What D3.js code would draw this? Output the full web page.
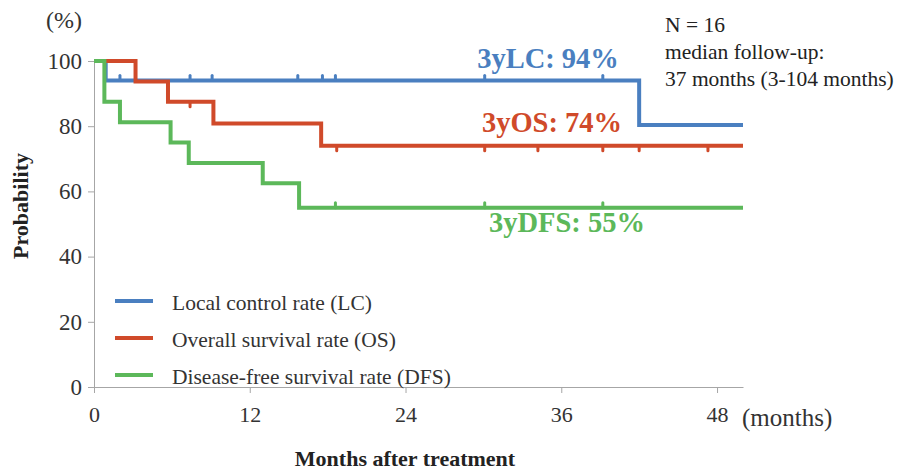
<!DOCTYPE html>
<html>
<head>
<meta charset="utf-8">
<script src="https://cdn.jsdelivr.net/npm/d3@7/dist/d3.min.js"></script>
<style>
  html, body { margin: 0; padding: 0; background: #ffffff; }
  svg { display: block; }
  text { font-family: "Liberation Serif", "DejaVu Serif", serif; }
</style>
</head>
<body>
<svg id="chart" width="904" height="474"></svg>
<script>
// Kaplan-Meier estimates (percent) after treatment, step changes in months
const lcTimes   = [0, 0.9, 42.0, 50];
const lcValues  = [100, 94, 80.4, 80.4];
const osTimes   = [0, 3.2, 5.7, 9.2, 17.5, 50];
const osValues  = [100, 93.75, 87.5, 80.8, 74, 74];
const dfsTimes  = [0, 0.8, 2.0, 5.9, 7.3, 13.0, 15.8, 50];
const dfsValues = [100, 87.5, 81.25, 75, 68.75, 62.5, 55, 55];

// censored observations (months)
const lcCensored  = [2.0, 7.4, 9.1, 15.7, 17.6, 18.6, 30.1, 39.2];
const osCensored  = [7.4, 18.7, 30.1, 34.2, 39.2, 42.0, 47.3];
const dfsCensored = [18.6, 30.1, 39.2];

const xTicks = [0, 12, 24, 36, 48];
const yTicks = [0, 20, 40, 60, 80, 100];

const seriesNames = ["Local control rate (LC)", "Overall survival rate (OS)", "Disease-free survival rate (DFS)"];
const rateLabels  = ["3yLC: 94%", "3yOS: 74%", "3yDFS: 55%"];
const colors      = ["#4a7fc0", "#d04a2a", "#5cb85a"];

const svg = d3.select("#chart");
const x = d3.scaleLinear().domain([0, 50]).range([94, 743]);
const y = d3.scaleLinear().domain([0, 100]).range([387, 61]);

const axisColor = "#a6a6a6";
const serif = "Liberation Serif, serif";

// y axis
const gy = svg.append("g")
  .attr("transform", `translate(${x(0)},0)`)
  .call(d3.axisLeft(y).tickValues(yTicks).tickSize(6).tickPadding(6).tickSizeOuter(0));
gy.select(".domain").attr("stroke", axisColor);
gy.selectAll(".tick line").attr("stroke", axisColor);
gy.selectAll(".tick text")
  .attr("font-size", 23).attr("fill", "#333")
  .attr("font-family", serif);

// x axis
const gx = svg.append("g")
  .attr("transform", `translate(0,${y(0)})`)
  .call(d3.axisBottom(x).tickValues(xTicks).tickSize(6).tickPadding(13).tickSizeOuter(0));
gx.select(".domain").attr("stroke", axisColor);
gx.selectAll(".tick line").attr("stroke", axisColor);
gx.selectAll(".tick text")
  .attr("font-size", 22).attr("fill", "#333")
  .attr("font-family", serif);

// step curves
const series = [
  { t: lcTimes,  v: lcValues,  c: lcCensored,  dir: -1 },
  { t: osTimes,  v: osValues,  c: osCensored,  dir: 1 },
  { t: dfsTimes, v: dfsValues, c: dfsCensored, dir: -1 }
];

const line = d3.line()
  .x(d => x(d[0]))
  .y(d => y(d[1]))
  .curve(d3.curveStepAfter);

function valueAt(s, month) {
  let val = s.v[0];
  for (let i = 0; i < s.t.length; i++) if (s.t[i] <= month) val = s.v[i];
  return val;
}

// draw in order LC, OS, DFS so that DFS sits on top near the origin
[0, 1, 2].forEach(i => {
  const s = series[i];
  svg.append("path")
    .datum(s.t.map((t, k) => [t, s.v[k]]))
    .attr("fill", "none")
    .attr("stroke", colors[i])
    .attr("stroke-width", 4)
    .attr("d", line);
});

// censor marks
series.forEach((s, i) => {
  svg.append("g").selectAll("line")
    .data(s.c)
    .join("line")
    .attr("x1", d => x(d)).attr("x2", d => x(d))
    .attr("y1", d => y(valueAt(s, d)))
    .attr("y2", d => y(valueAt(s, d)) + s.dir * 5)
    .attr("stroke", colors[i])
    .attr("stroke-width", 3)
    .attr("stroke-linecap", "round");
});

// 3-year rate labels
const labelPos = [[548, 68], [552, 132], [567, 232]];
rateLabels.forEach((t, i) => {
  svg.append("text")
    .attr("x", labelPos[i][0]).attr("y", labelPos[i][1])
    .attr("text-anchor", "middle")
    .attr("font-size", 28.5).attr("font-weight", "bold")
    .attr("fill", colors[i])
    .text(t);
});

// cohort notes
const notes = ["N = 16", "median follow-up:", "37 months (3-104 months)"];
notes.forEach((t, i) => {
  svg.append("text")
    .attr("x", 665).attr("y", 32 + i * 27)
    .attr("font-size", 21.5).attr("fill", "#222")
    .text(t);
});

// legend
seriesNames.forEach((t, i) => {
  const ly = 301 + i * 37;
  svg.append("line")
    .attr("x1", 115).attr("x2", 153)
    .attr("y1", ly).attr("y2", ly)
    .attr("stroke", colors[i]).attr("stroke-width", 4);
  svg.append("text")
    .attr("x", 172).attr("y", ly + 9)
    .attr("font-size", 21.5).attr("fill", "#333")
    .text(t);
});

// axis titles
svg.append("text")
  .attr("x", 64).attr("y", 28)
  .attr("text-anchor", "middle")
  .attr("font-size", 24).attr("fill", "#333")
  .text("(%)");

svg.append("text")
  .attr("x", 742).attr("y", 426)
  .attr("font-size", 25).attr("fill", "#333")
  .text("(months)");

svg.append("text")
  .attr("transform", "translate(28,206) rotate(-90)")
  .attr("text-anchor", "middle")
  .attr("font-size", 22).attr("font-weight", "bold").attr("fill", "#222")
  .text("Probability");

svg.append("text")
  .attr("x", 405).attr("y", 466)
  .attr("text-anchor", "middle")
  .attr("font-size", 22).attr("font-weight", "bold").attr("fill", "#222")
  .text("Months after treatment");
</script>
</body>
</html>
